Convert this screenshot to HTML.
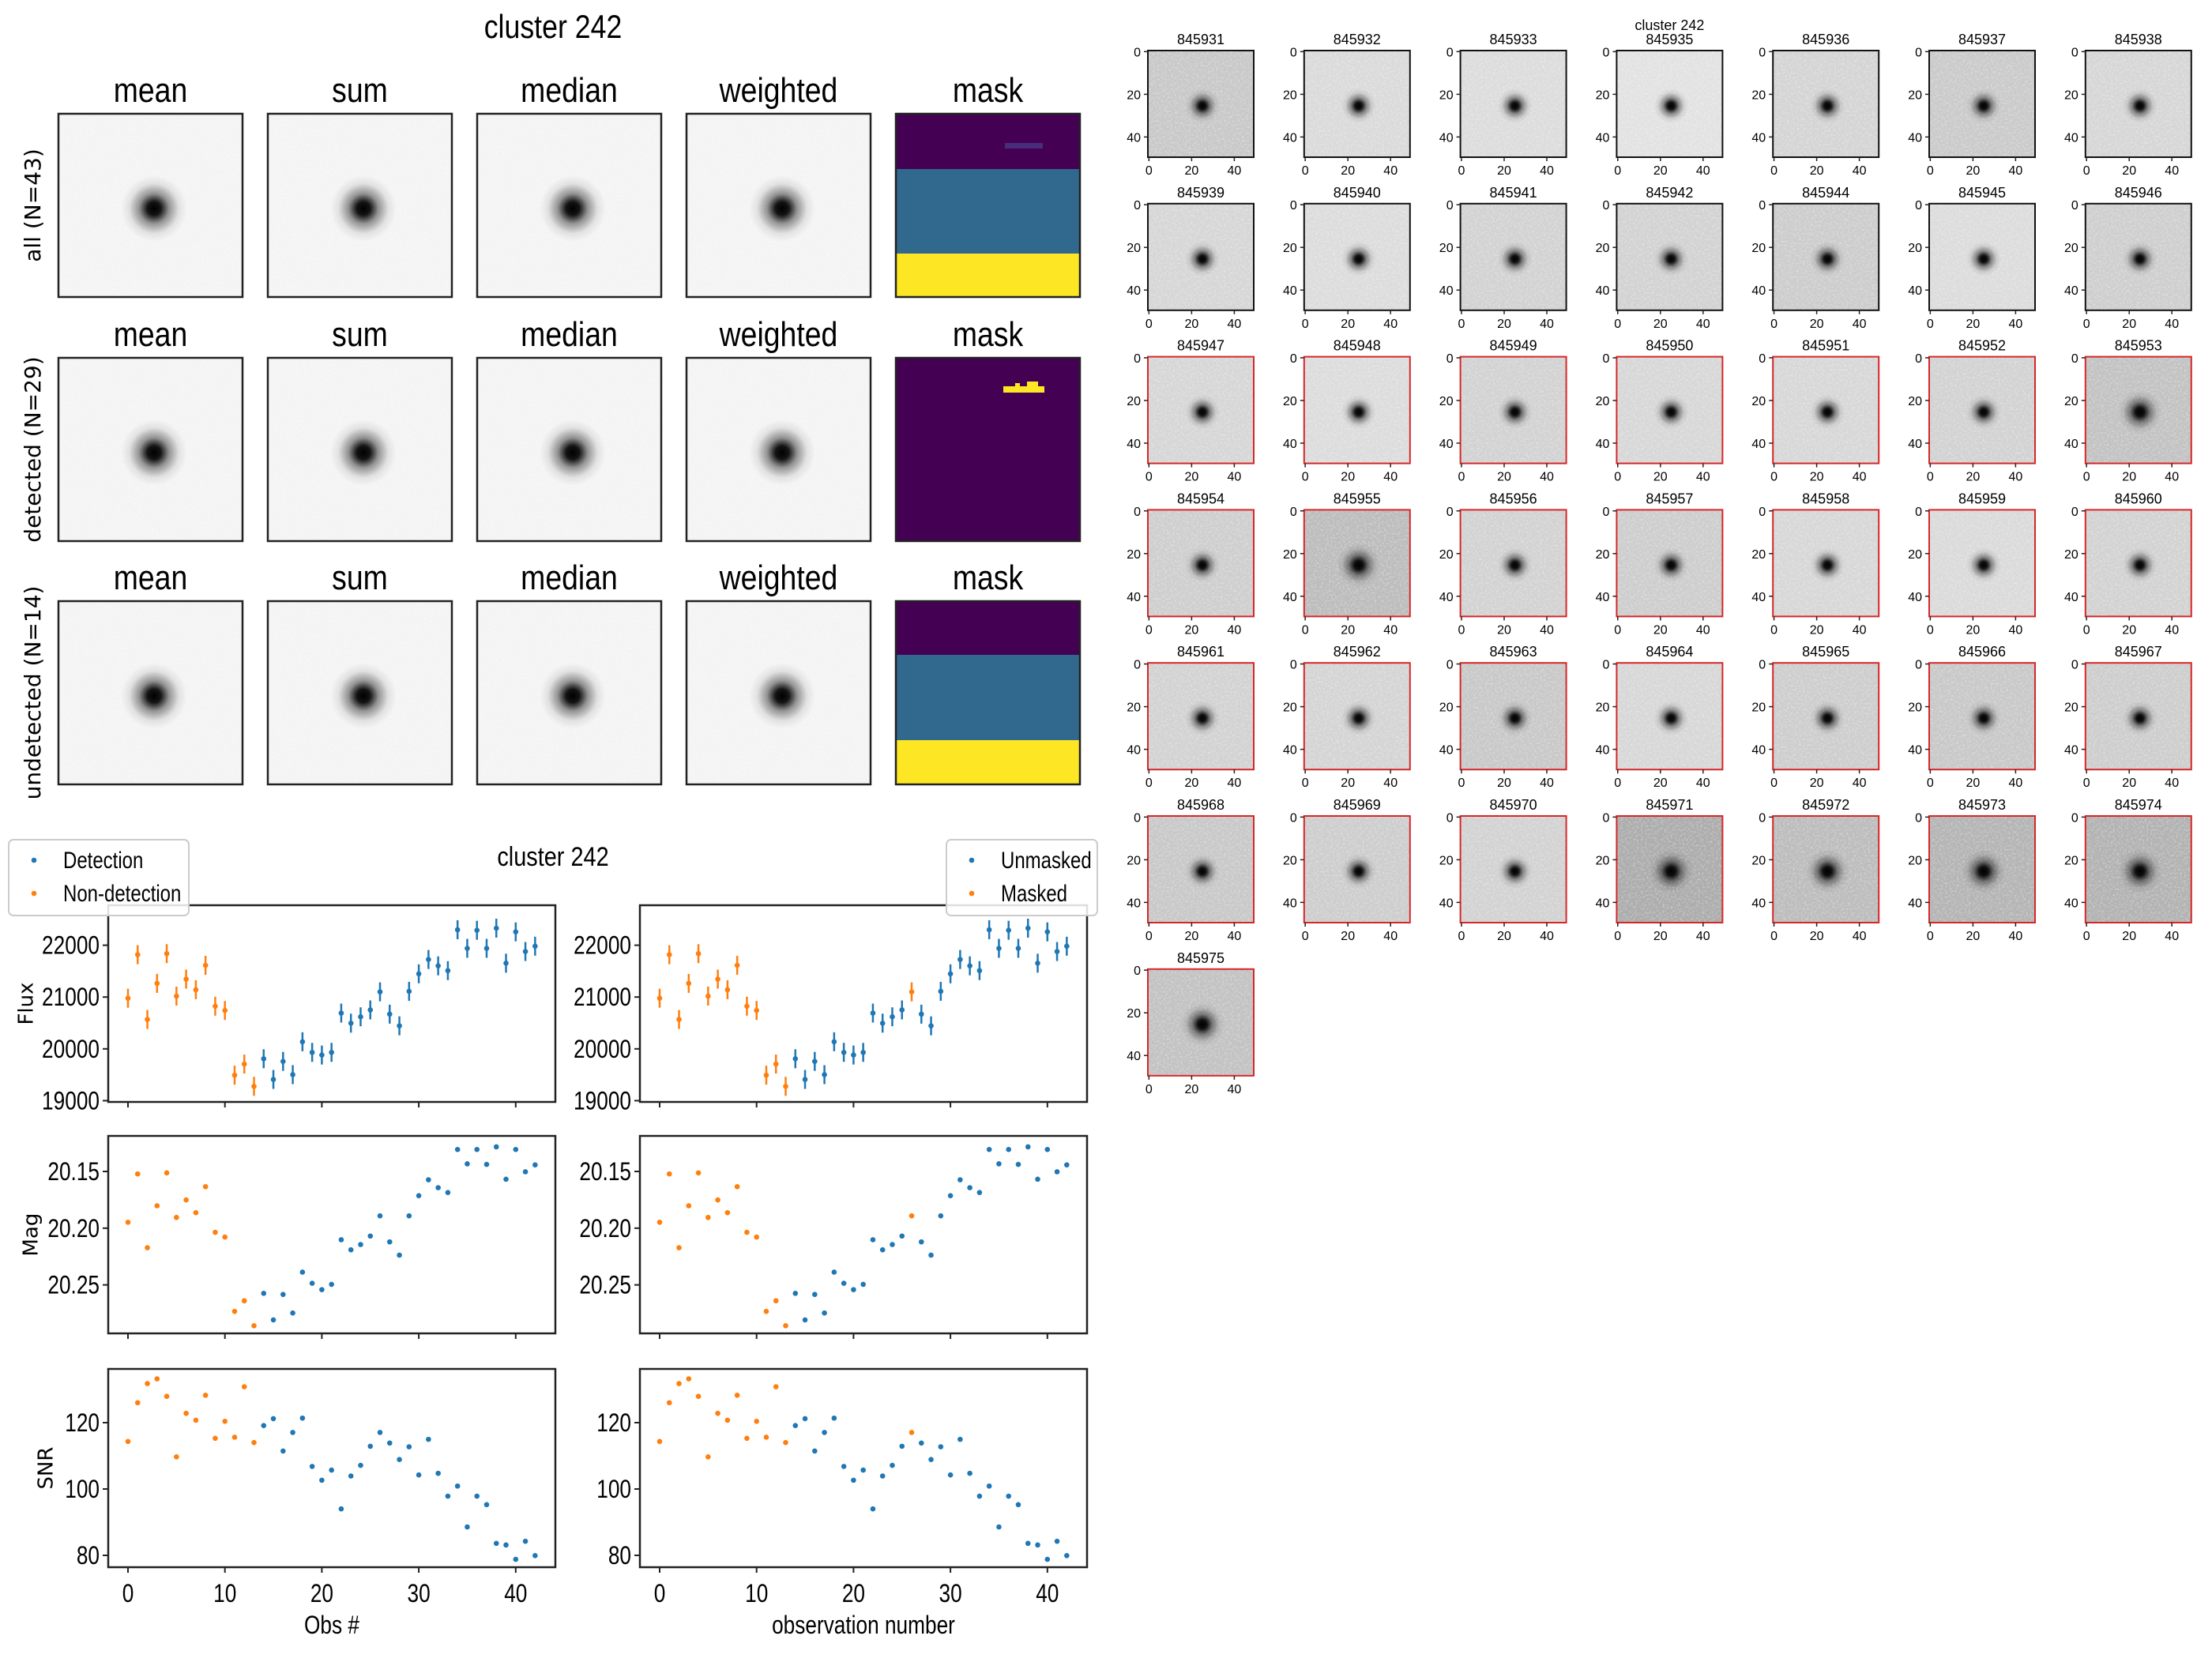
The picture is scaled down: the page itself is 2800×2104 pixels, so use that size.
<!DOCTYPE html>
<html><head><meta charset="utf-8">
<style>
html,body{margin:0;padding:0;background:#fff;}
svg{display:block;font-family:"Liberation Sans",sans-serif;}
</style></head>
<body>
<svg id="s" width="2800" height="2104" viewBox="0 0 2800 2104" xmlns="http://www.w3.org/2000/svg">
<defs>
<radialGradient id="gb">
<stop offset="0" stop-color="#000" stop-opacity="1"/>
<stop offset="0.2" stop-color="#000" stop-opacity="0.92"/>
<stop offset="0.45" stop-color="#000" stop-opacity="0.4"/>
<stop offset="0.75" stop-color="#000" stop-opacity="0.08"/>
<stop offset="1" stop-color="#000" stop-opacity="0"/>
</radialGradient>
<filter id="nz" x="0" y="0" width="1" height="1">
<feTurbulence type="fractalNoise" baseFrequency="0.4" numOctaves="2" seed="5"/>
<feColorMatrix type="matrix" values="0 0 0 0 1  0 0 0 0 1  0 0 0 0 1  0 0 0 1.6 -0.7"/>
</filter>
</defs>
</svg>
<script>
const S=document.getElementById('s');let h='';
const B='#1f77b4',O='#ff7f0e';
function T(x,y,t,sz,anc){h+=`<text x="${x}" y="${y}" font-size="${sz}" text-anchor="${anc||'middle'}">${t}</text>`;}
function N(x,y,t,sz,anc,sx){sx=sx||0.82;h+=`<text transform="translate(${x} ${y}) scale(${sx} 1)" x="0" y="0" font-size="${sz}" text-anchor="${anc||'middle'}">${t}</text>`;}
N(700,48,'cluster 242',42,'middle',0.85);
const cx=[74,339,604,869,1134],ry=[144,453,761],tit=['mean','sum','median','weighted','mask'],rl=['all (N=43)','detected (N=29)','undetected (N=14)'];
for(let r=0;r<3;r++){
 for(let c=0;c<5;c++){
  const x=cx[c],y=ry[r],w=233,hh=232;
  N(x+w/2,ry[r]-15,tit[c],44,'middle',0.85);
  if(c<4){
   h+=`<rect x="${x}" y="${y}" width="${w}" height="${hh}" fill="#f4f4f4"/>`;
   h+=`<rect x="${x}" y="${y}" width="${w}" height="${hh}" filter="url(#nz)" opacity="0.5"/>`;
   h+=`<circle cx="${x+121}" cy="${y+120}" r="42" fill="url(#gb)"/>`;
  } else {
   if(r==1){h+=`<rect x="${x}" y="${y}" width="${w}" height="${hh}" fill="#440154"/>`;
     h+=`<rect x="1270" y="489" width="52" height="8" fill="#fde725"/><rect x="1300" y="483" width="14" height="14" fill="#fde725"/><rect x="1285" y="485" width="6" height="12" fill="#fde725"/>`;}
   else{const p=r==0?[144,214,321,377]:[761,829,937,993];
     h+=`<rect x="${x}" y="${p[0]}" width="${w}" height="${p[1]-p[0]}" fill="#440154"/><rect x="${x}" y="${p[1]}" width="${w}" height="${p[2]-p[1]}" fill="#31688e"/><rect x="${x}" y="${p[2]}" width="${w}" height="${p[3]-p[2]}" fill="#fde725"/>`;
     if(r==0)h+=`<rect x="1272" y="181" width="48" height="7" fill="#472d7b"/>`;}
  }
  h+=`<rect x="${x}" y="${y}" width="${w}" height="${hh}" fill="none" stroke="#222" stroke-width="2.5"/>`;
 }
 const yc=ry[r]+116;
 h+=`<text x="43" y="${yc}" font-size="28" font-family="DejaVu Sans,sans-serif" text-anchor="middle" dominant-baseline="middle" transform="rotate(-90 43 ${yc})">${rl[r]}</text>`;
}
N(700,1096,'cluster 242',34,'middle',0.85);
const fl=[318,236,358,290,234,314,282,302,256,333,341,463,442,484,432,471,437,462,400,420,425,420,346,365,353,340,306,348,370,305,272,245,257,266,189,224,190,224,186,252,193,230,220];
const mg=[740,649,788,709,647,731,698,722,673,759,768,908,888,935,874,924,876,911,834,855,867,857,773,792,782,766,728,777,802,728,690,660,675,684,603,630,603,631,598,659,603,645,632];
const sn=[1153,1080,1044,1035,1068,1182,1100,1113,1066,1147,1115,1145,1050,1155,1123,1110,1171,1136,1109,1200,1226,1207,1280,1218,1198,1162,1136,1156,1187,1163,1216,1149,1213,1256,1237,1314,1256,1272,1345,1348,1375,1341,1368];
const AX=[137,810],AR=[[1146,1395],[1438,1688],[1733,1984]];
const yt=[[[19000,1393.4],[20000,1327.8],[21000,1262.2],[22000,1196.6]],[[ '20.15',1483],['20.20',1554.8],['20.25',1626.6]],[[80,1969],[100,1885],[120,1801]]];
const data=[fl,mg,sn],yl=['Flux','Mag','SNR'],ylx=[34,40,59];
for(let p=0;p<2;p++){
 const x0=AX[p];
 for(let r=0;r<3;r++){
  const [y0,y1]=AR[r];
  for(const [v,y] of yt[r]){h+=`<line x1="${x0-7}" y1="${y}" x2="${x0}" y2="${y}" stroke="#222" stroke-width="2"/>`;N(x0-11,y+11,v,32,'end');}
  for(let k=0;k<=40;k+=10){const x=x0+25+12.27*k;h+=`<line x1="${x}" y1="${y1}" x2="${x}" y2="${y1+7}" stroke="#222" stroke-width="2"/>`;if(r==2)N(x,2028,k,32);}
  for(let n=0;n<43;n++){
   const x=x0+25+12.27*n,y=1050+0.672*data[r][n];
   const col=(n<14||(p==1&&n==26))?O:B;
   if(r==0)h+=`<line x1="${x}" y1="${y-12}" x2="${x}" y2="${y+12}" stroke="${col}" stroke-width="2.5"/>`;
   h+=`<circle cx="${x}" cy="${y}" r="3.3" fill="${col}"/>`;
  }
  h+=`<rect x="${x0}" y="${y0}" width="566" height="${y1-y0}" fill="none" stroke="#222" stroke-width="2.5"/>`;
  if(p==0){const yc=(y0+y1)/2;h+=`<text x="${ylx[r]}" y="${yc}" font-size="26" font-family="DejaVu Sans,sans-serif" text-anchor="middle" dominant-baseline="middle" transform="rotate(-90 ${ylx[r]} ${yc})">${yl[r]}</text>`;}
 }
}
N(420,2068,'Obs #',32);N(1093,2068,'observation number',32);
function leg(x,y,w,a,b){h+=`<rect x="${x}" y="${y}" width="${w}" height="96" rx="6" fill="#fff" fill-opacity="0.85" stroke="#ccc" stroke-width="2"/>`;
 h+=`<circle cx="${x+32}" cy="${y+26}" r="3.3" fill="${B}"/><circle cx="${x+32}" cy="${y+68}" r="3.3" fill="${O}"/>`;
 N(x+69,y+36,a,30,'start',0.8);N(x+69,y+78,b,30,'start',0.8);}
leg(11,1063,228,'Detection','Non-detection');
leg(1198,1063,191,'Unmasked','Masked');
const ids=['845931','845932','845933','845935','845936','845937','845938','845939','845940','845941','845942','845944','845945','845946'];
for(let i=947;i<=975;i++)ids.push('845'+i);
const gr={'845931':200,'845932':218,'845933':220,'845935':226,'845936':212,'845937':202,'845938':214,'845939':214,'845940':220,'845941':210,'845942':210,'845944':204,'845945':220,'845946':206,'845947':214,'845948':220,'845949':210,'845950':215,'845951':215,'845952':210,'845953':194,'845954':206,'845955':188,'845956':210,'845957':205,'845958':215,'845959':218,'845960':210,'845961':210,'845962':212,'845963':200,'845964':215,'845965':205,'845966':200,'845967':205,'845968':200,'845969':205,'845970':210,'845971':172,'845972':188,'845973':180,'845974':178,'845975':194};
ids.forEach((id,i)=>{
 const r=Math.floor(i/7),c=i%7,x=1453+c*197.8,y=64+r*193.8,w=134,hh=135;
 const g=gr[id]||210;
 h+=`<rect x="${x}" y="${y}" width="${w}" height="${hh}" fill="rgb(${g},${g},${g})"/>`;
 h+=`<rect x="${x}" y="${y}" width="${w}" height="${hh}" filter="url(#nz)" opacity="0.55"/>`;
 h+=`<circle cx="${x+69}" cy="${y+70}" r="${g<195?28:22}" fill="url(#gb)"/>`;
 h+=`<rect x="${x}" y="${y}" width="${w}" height="${hh}" fill="none" stroke="${r<2?'#111':'#d62728'}" stroke-width="2"/>`;
 T(x+67,y-8,id,18);
 for(const [v,o] of [[0,1.35],[20,55.4],[40,109.4]]){
  h+=`<line x1="${x-5}" y1="${y+o}" x2="${x}" y2="${y+o}" stroke="#222" stroke-width="1.5"/>`;T(x-9,y+o+6,v,16,'end');
  h+=`<line x1="${x+o}" y1="${y+hh}" x2="${x+o}" y2="${y+hh+5}" stroke="#222" stroke-width="1.5"/>`;T(x+o,y+hh+22,v,16);
 }
});
T(1453+3*197.8+67,38,'cluster 242',18);
S.insertAdjacentHTML('beforeend',h);
</script>
</body></html>
